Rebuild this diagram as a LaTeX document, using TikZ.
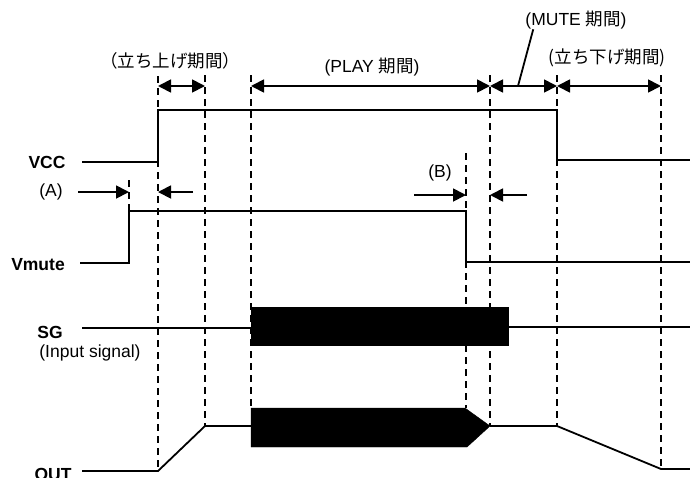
\documentclass[tikz,border=0pt]{standalone}
\usepackage{fontspec}
\setmainfont{Liberation Sans}
\newfontfamily\jpfont{Noto Sans CJK JP}
\usetikzlibrary{arrows.meta}

\begin{document}
\begin{tikzpicture}[x=1pt,y=-1pt,
  sig/.style={line width=1.8pt},
  guide/.style={line width=1.8pt,dash pattern=on 7pt off 5pt},
  span/.style={line width=1.8pt,{Triangle[length=13pt,width=13pt]}-{Triangle[length=13pt,width=13pt]}},
  ptr/.style={line width=1.8pt,-{Triangle[length=13pt,width=13pt]}},
  lbl/.style={font=\fontsize{17.5}{20}\selectfont\bfseries,inner sep=0pt,anchor=base},
  txt/.style={font=\fontsize{17.5}{20}\selectfont,inner sep=0pt}]
\useasboundingbox (0,0) rectangle (690,477);

% guide lines
\draw [guide] (158,76) -- (158,470);
\draw [guide] (205,75) -- (205,426);
\draw [guide] (251,75) -- (251,408);
\draw [guide] (490,75) -- (490,426);
\draw [guide] (557,75) -- (557,426);
\draw [guide] (661,75) -- (661,469);
\draw [guide] (129,180) -- (129,211);
\draw [guide] (466,153) -- (466,408);

% signals
\draw [sig] (82,162) -- (158,162) -- (158,110) -- (557,110) -- (557,160) -- (690,160);
\draw [sig] (80,263) -- (129,263) -- (129,211) -- (466,211) -- (466,262) -- (690,262);
\draw [sig] (82,328) -- (251,328);
\filldraw (251,307) rectangle (508,345);
\draw [sig] (508,327) -- (690,327);
\draw [sig] (82,471) -- (158,471) -- (205,426) -- (251,426);
\filldraw (251,408) -- (465,408) -- (490,426) -- (467,447) -- (251,447) -- cycle;
\draw [sig] (490,426) -- (557,426) -- (661,469) -- (690,469);

% labels
\node [lbl] (vcc) at (47,168) {VCC};
\node [lbl] (vmute) at (38,270) {Vmute};
\node [lbl] (sg) at (50,338) {SG};
\node [txt,anchor=base] (insig) at (90,357) {(Input signal)};
\node [lbl] (out) at (53,480) {OUT};

\node [txt] (rise) at (170,61) {\jpfont （立ち上げ期間）};
\node [txt] (play) at (372,67) {(PLAY {\jpfont 期間})};
\node [txt] (mute) at (576,20) {(MUTE {\jpfont 期間})};
\node [txt] (fall) at (607,58) {\jpfont (立ち下げ期間)};
\node [txt] (a) at (51,192) {(A)};
\node [txt] (b) at (440,173) {(B)};

% spans
\coordinate (mutept) at (518,86);
\draw [span] (158,86) -- (205,86);
\draw [span] (251,86) -- (490,86);
\draw [span] (490,86) -- (557,86);
\draw [span] (557,86) -- (661,86);
\draw [sig] ([xshift=8pt]mute.south west) -- (mutept);

\draw [ptr] (78,192) -- (129,192);
\draw [ptr] (193,192) -- (158,192);
\draw [ptr] (414,195) -- (466,195);
\draw [ptr] (527,195) -- (490,195);

\end{tikzpicture}
\end{document}
